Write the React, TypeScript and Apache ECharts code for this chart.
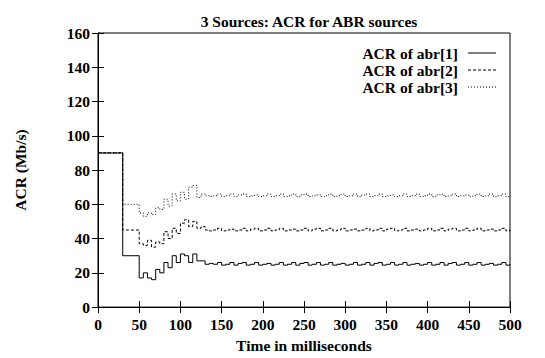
import React, { useEffect, useRef } from "react";
import * as echarts from "echarts";

// Sampling step of the simulation trace (ms); values below are one per step, 0..500 ms
const SAMPLE_MS = 5;

const seriesNames = ["ACR of abr[1]", "ACR of abr[2]", "ACR of abr[3]"];

const abr1 = [
  90, 90, 90, 90, 90, 90,
  30, 30, 30, 30,
  17, 20, 17, 16, 22, 20, 26, 23, 30, 26, 31, 30, 26, 31, 27, 27, 25, 25.5,
  25, 26, 24.5, 25, 26, 24.5, 25.5, 26, 24.5, 25, 26, 24.5,
  25, 25.5, 24.5, 25, 26, 24.5, 25, 26, 24.5, 25.5, 26, 24.5,
  25, 26, 24.5, 25, 26, 24.5, 25, 25.5, 24.5, 25, 26, 24.5,
  25, 26, 24.5, 25.5, 26, 24.5, 25, 26, 24.5, 25, 26, 24.5,
  25, 25.5, 24.5, 25, 26, 24.5, 25, 26, 24.5, 25.5, 26, 24.5,
  25, 26, 24.5, 25, 26, 24.5, 25, 25.5, 24.5, 25, 26, 24.5,
  25,
];

const abr2 = [
  90, 90, 90, 90, 90, 90,
  45, 45, 45, 45,
  37, 36, 39, 35, 38, 37, 44, 40, 46, 43, 49, 51, 47, 50, 46, 47, 45, 44.5,
  45, 46, 44.5, 45, 45.5, 44.5, 45, 46, 44.5, 45.5, 46, 44.5,
  45, 46, 44.5, 45, 46, 44.5, 45, 45.5, 44.5, 45, 46, 44.5,
  45.5, 46, 44.5, 45, 46, 44.5, 45, 46, 44.5, 45, 45.5, 44.5,
  45, 46, 44.5, 45, 46, 44.5, 45.5, 46, 44.5, 45, 46, 44.5,
  45, 45.5, 44.5, 45, 46, 44.5, 45, 46, 44.5, 45.5, 46, 44.5,
  45, 46, 44.5, 45, 46, 44.5, 45, 45.5, 44.5, 45, 46, 44.5,
  45,
];

const abr3 = [
  90, 90, 90, 90, 90, 90,
  60, 60, 60, 60,
  55, 53, 55, 54, 58, 57, 63, 59, 66, 62, 67, 63, 70, 71, 64, 66, 65, 64.5,
  65, 66, 64.5, 65, 66, 64.5, 65.5, 66, 64.5, 65, 65.5, 64.5,
  65, 66, 64.5, 65, 66, 64.5, 65, 66, 64.5, 65.5, 66, 64.5,
  65, 65.5, 64.5, 65, 66, 64.5, 65, 66, 64.5, 65, 66, 64.5,
  65.5, 66, 64.5, 65, 66, 64.5, 65, 65.5, 64.5, 65, 66, 64.5,
  65, 66, 64.5, 65, 66, 64.5, 65.5, 66, 64.5, 65, 66, 64.5,
  65, 65.5, 64.5, 65, 66, 64.5, 65, 66, 64.5, 65, 66, 64.5,
  65,
];

const xTicks = { min: 0, max: 500, interval: 50 };
const yTicks = { min: 0, max: 160, interval: 20 };

const FONT = "Liberation Serif, Times New Roman, serif";
const FS = 15.5;

const toPairs = (vals: number[]) => vals.map((v, i) => [i * SAMPLE_MS, v]);

export default function App() {
  const ref = useRef<HTMLDivElement>(null);
  useEffect(() => {
    if (!ref.current) return;
    const chart = echarts.init(ref.current, undefined, { renderer: "svg" });
    const txt = { color: "#000", fontFamily: FONT, fontWeight: "bold" as const, fontSize: FS };
    const tick = { show: true, inside: true, length: 6, lineStyle: { color: "#000", width: 1 } };
    const dashes: any[] = ["solid", [3, 2], [1, 2]];
    const allData = [abr1, abr2, abr3];

    const legendRight = 458;
    const legendRows = [53, 70, 87];
    const legendGraphic: any[] = [];
    seriesNames.forEach((n, i) => {
      legendGraphic.push({
        type: "text",
        x: legendRight,
        y: legendRows[i],
        style: {
          text: n,
          fill: "#000",
          fontFamily: FONT,
          fontWeight: "bold",
          fontSize: FS,
          align: "right",
          verticalAlign: "middle",
        },
      });
      legendGraphic.push({
        type: "line",
        shape: { x1: legendRight + 10, y1: legendRows[i], x2: legendRight + 38, y2: legendRows[i] },
        style: { stroke: "#000", lineWidth: 1, lineDash: i === 0 ? null : dashes[i] },
      });
    });

    chart.setOption({
      animation: false,
      backgroundColor: "#fff",
      title: {
        text: "3 Sources: ACR for ABR sources",
        left: 304,
        textAlign: "center",
        top: 8,
        textStyle: txt,
      },
      graphic: legendGraphic,
      grid: {
        left: 98,
        right: 35,
        top: 33,
        bottom: 44,
        show: true,
        borderColor: "#000",
        borderWidth: 1,
      },
      xAxis: [
        {
          type: "value",
          ...xTicks,
          axisLine: { show: true, lineStyle: { color: "#000" } },
          axisTick: tick,
          axisLabel: { ...txt, margin: 9 },
          splitLine: { show: false },
          name: "Time in milliseconds",
          nameLocation: "middle",
          nameGap: 26,
          nameTextStyle: txt,
        },
        {
          type: "value",
          position: "top",
          ...xTicks,
          axisLine: { show: true, lineStyle: { color: "#000" } },
          axisTick: tick,
          axisLabel: { show: false },
          splitLine: { show: false },
        },
      ],
      yAxis: [
        {
          type: "value",
          ...yTicks,
          axisLine: { show: true, lineStyle: { color: "#000" } },
          axisTick: tick,
          axisLabel: { ...txt, margin: 8 },
          splitLine: { show: false },
          name: "ACR (Mb/s)",
          nameLocation: "middle",
          nameGap: 70,
          nameTextStyle: txt,
        },
        {
          type: "value",
          position: "right",
          ...yTicks,
          axisLine: { show: true, lineStyle: { color: "#000" } },
          axisTick: tick,
          axisLabel: { show: false },
          splitLine: { show: false },
        },
      ],
      series: allData.map((vals, i) => ({
        name: seriesNames[i],
        type: "line",
        step: "end",
        xAxisIndex: 0,
        yAxisIndex: 0,
        symbol: "none",
        data: toPairs(vals),
        lineStyle: { color: "#000", width: 1, type: dashes[i] },
        itemStyle: { color: "#000" },
      })),
    });
    return () => chart.dispose();
  }, []);
  return <div ref={ref} style={{ width: 545, height: 358, position: "absolute", left: 0, top: 0 }} />;
}
